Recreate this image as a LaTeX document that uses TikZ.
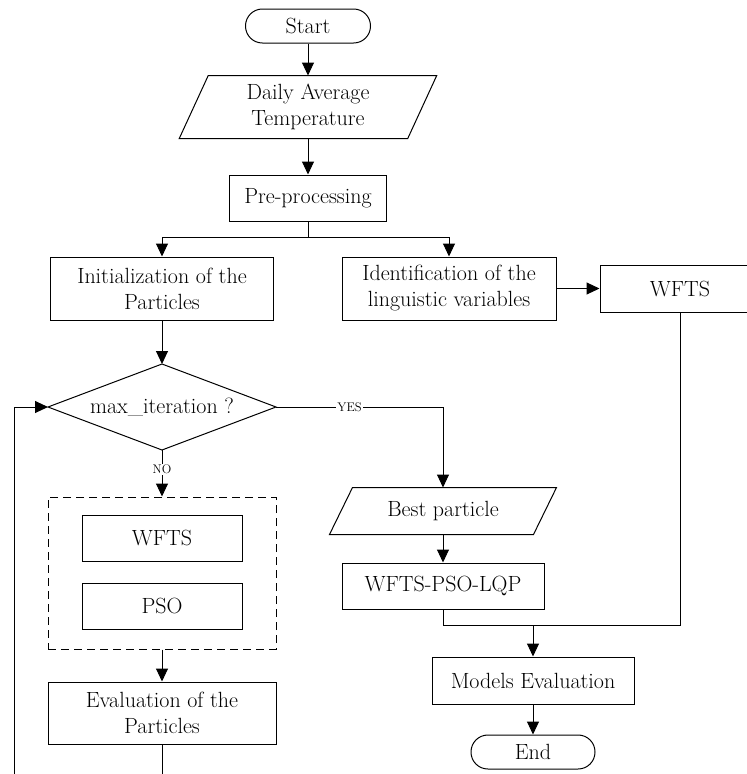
\documentclass[tikz,border=0pt]{standalone}
\usetikzlibrary{arrows.meta,calc}
\begin{document}
\begin{tikzpicture}[x=1pt,y=-1pt,
  font=\fontsize{22}{26}\selectfont,
  line width=1pt,
  box/.style={draw, rectangle, inner sep=0pt, align=center},
  ghost/.style={rectangle, inner sep=0pt, align=center},
  term/.style={draw, rectangle, rounded corners=16.9pt, inner sep=0pt, minimum height=34pt},
  arr/.style={-{Triangle[length=13pt,width=12pt]}},
  lbl/.style={font=\fontsize{12.5}{14}\selectfont, fill=white, inner sep=1pt},
  grpbox/.style={draw, rectangle, dash pattern=on 8pt off 5pt, inner sep=0pt}
]
\useasboundingbox (0,0) rectangle (747,774);
\clip (0,0) rectangle (747,774);

% nodes
\node[term, minimum width=125pt] (start) at (308,26) {Start};
\node[ghost, minimum width=227.5pt, minimum height=62pt] (daily) at (308,107) {Daily Average\\Temperature};
\draw ($(daily.north west)+(14.5,0)$) -- ($(daily.north east)+(14.5,0)$) -- ($(daily.south east)+(-14.5,0)$) -- ($(daily.south west)+(-14.5,0)$) -- cycle;
\node[box, minimum width=157pt, minimum height=46pt] (pre) at (308,198) {Pre-processing};
\coordinate (split) at (308,237);
\node[box, minimum width=223pt, minimum height=63pt] (init) at (162,288.5) {Initialization of the\\Particles};
\node[box, minimum width=214pt, minimum height=63pt] (ident) at (449,288.5) {Identification of the\\linguistic variables};
\node[box, minimum width=160pt, minimum height=47pt] (wfts2) at (680,288.5) {WFTS};

\node[ghost, minimum width=227pt, minimum height=85pt] (dia) at (162,407) {max\_iteration ?};
\draw (dia.north) -- (dia.east) -- (dia.south) -- (dia.west) -- cycle;

\node[grpbox, minimum width=228pt, minimum height=152pt] (grp) at (162,573) {};
\node[box, minimum width=160pt, minimum height=46pt] (wfts1) at (162,538) {WFTS};
\node[box, minimum width=160pt, minimum height=46pt] (pso) at (162,606) {PSO};
\node[box, minimum width=228pt, minimum height=62pt] (eval) at (162,713) {Evaluation of the\\Particles};

\node[ghost, minimum width=203pt, minimum height=46pt] (best) at (443,511) {Best particle};
\draw ($(best.north west)+(11.5,0)$) -- ($(best.north east)+(11.5,0)$) -- ($(best.south east)+(-11.5,0)$) -- ($(best.south west)+(-11.5,0)$) -- cycle;
\node[box, minimum width=202pt, minimum height=46pt] (lqp) at (443,586) {WFTS-PSO-LQP};
\coordinate (merge) at (533,625);
\node[box, minimum width=202pt, minimum height=47pt] (models) at (533,680.5) {Models Evaluation};
\node[term, minimum width=124pt] (end) at (533,752) {End};

\coordinate (yesbend) at (443,407);
\coordinate (loopA) at (162,800);
\coordinate (loopB) at (14,800);
\coordinate (loopC) at (14,407);

% connectors
\draw[arr] (start.south) -- (start.south |- daily.north);
\draw[arr] (daily.south) -- (pre.north);
\draw (pre.south) -- (split);
\draw[arr] (split) -| (init.north);
\draw[arr] (split) -| (ident.north);
\draw[arr] (ident.east) -- (wfts2.west);
\draw[arr] (init.south) -- (dia.north);
\draw (dia.east) -- node[lbl, pos=0.44] (yes) {YES} (yesbend);
\draw[arr] (yesbend) -- (best.north);
\draw[arr] (dia.south) -- node[lbl, pos=0.42] (no) {NO} (grp.north);
\draw[arr] (grp.south) -- (eval.north);
\draw[arr] (eval.south) -- (loopA) -- (loopB) -- (loopC) -- (dia.west);
\draw[arr] (best.south) -- (lqp.north);
\draw (lqp.south) |- (wfts2.south |- merge) -- (wfts2.south);
\draw[arr] (merge) -- (models.north);
\draw[arr] (models.south) -- (end.north);
\end{tikzpicture}
\end{document}
